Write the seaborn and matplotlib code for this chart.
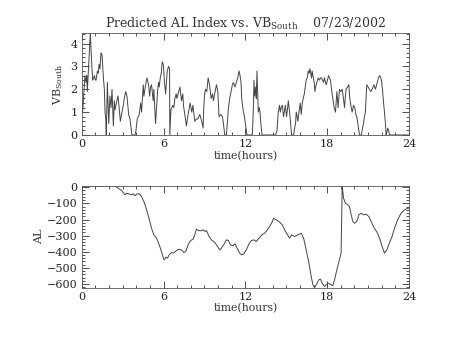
import numpy as np
import pandas as pd
import matplotlib
matplotlib.use("Agg")
import matplotlib.pyplot as plt
from matplotlib.ticker import MultipleLocator
import seaborn as sns

# Southward IMF component (VB_south), hours UT
vb_hours = [0.00, 0.07, 0.15, 0.24, 0.32, 0.37, 0.41, 0.49, 0.56, 0.63, 0.71, 0.80, 0.88, 0.93,
            1.00, 1.05, 1.15, 1.22, 1.27, 1.34, 1.41, 1.49, 1.59, 1.66, 1.71, 1.76, 1.80, 1.88,
            1.98, 2.07, 2.15, 2.22, 2.32, 2.39, 2.44, 2.54, 2.66, 2.73, 2.83, 2.95, 3.05, 3.12,
            3.22, 3.32, 3.44, 3.54, 3.68, 3.90, 3.98, 4.07, 4.22, 4.32, 4.39, 4.51, 4.56, 4.66,
            4.78, 4.90, 4.98, 5.05, 5.12, 5.24, 5.29, 5.41, 5.49, 5.56, 5.63, 5.68, 5.76, 5.83,
            5.90, 5.98, 6.07, 6.15, 6.27, 6.37, 6.44, 6.46, 6.54, 6.61, 6.68, 6.76, 6.83, 6.93,
            6.98, 7.07, 7.20, 7.32, 7.41, 7.46, 7.56, 7.68, 7.80, 7.95, 8.07, 8.15, 8.29, 8.41,
            8.51, 8.66, 8.80, 8.90, 8.95, 9.00, 9.07, 9.17, 9.27, 9.37, 9.49, 9.59, 9.66, 9.78,
            9.88, 9.98, 10.07, 10.20, 10.32, 10.41, 10.49, 10.61, 10.76, 10.85, 10.98, 11.05,
            11.12, 11.24, 11.34, 11.44, 11.54, 11.61, 11.68, 11.73, 11.83, 11.93, 12.00, 12.12,
            12.51, 12.59, 12.63, 12.68, 12.76, 12.80, 12.85, 12.90, 12.95, 13.02, 13.07, 13.15,
            13.22, 14.22, 14.32, 14.41, 14.51, 14.56, 14.63, 14.71, 14.80, 14.88, 14.93, 15.02,
            15.10, 15.15, 15.24, 15.32, 15.39, 15.54, 15.61, 15.68, 15.73, 15.80, 15.85, 15.93,
            16.02, 16.10, 16.17, 16.24, 16.32, 16.39, 16.46, 16.54, 16.61, 16.68, 16.73, 16.80,
            16.85, 16.90, 16.98, 17.05, 17.10, 17.15, 17.24, 17.34, 17.44, 17.51, 17.59, 17.66,
            17.73, 17.80, 17.88, 17.93, 18.02, 18.10, 18.17, 18.24, 18.32, 18.41, 18.51, 18.61,
            18.71, 18.76, 18.80, 18.85, 18.90, 19.00, 19.10, 19.17, 19.27, 19.32, 19.39, 19.49,
            19.59, 19.63, 19.68, 19.76, 19.83, 19.93, 20.02, 20.10, 20.17, 20.27, 20.37, 20.51,
            20.59, 20.66, 20.73, 20.80, 20.85, 20.90, 21.00, 21.10, 21.20, 21.29, 21.37, 21.44,
            21.54, 21.63, 21.76, 21.85, 21.93, 21.98, 22.05, 22.12, 22.20, 22.27, 22.32, 22.37,
            22.44, 22.51, 22.56, 24.00]
vb_south = [1.5, 1.0, 1.8, 2.6, 2.3, 2.6, 1.9, 2.8, 3.6, 4.45, 3.4, 2.4, 2.5, 2.6,
            2.4, 2.4, 2.8, 2.7, 3.1, 2.9, 3.6, 3.5, 2.5, 2.0, 1.0, 0.7, 0.0, 2.3,
            0.5, 1.7, 1.2, 2.0, 0.4, 1.5, 1.1, 1.4, 1.7, 1.3, 0.6, 1.0, 1.3, 1.6,
            1.9, 1.7, 0.9, 0.7, 0.0, 0.0, 0.2, 0.7, 0.9, 1.4, 1.0, 2.2, 1.7, 2.1,
            2.5, 2.2, 1.7, 2.1, 2.2, 1.5, 2.0, 0.5, 1.2, 1.9, 2.3, 2.1, 2.5, 2.7,
            3.2, 3.1, 2.3, 1.8, 2.8, 3.0, 2.9, 0.0, 1.1, 1.2, 1.3, 1.2, 1.6, 1.8,
            1.6, 1.8, 2.1, 1.5, 1.8, 1.3, 0.9, 0.4, 0.9, 1.4, 1.0, 1.3, 0.6, 0.7,
            0.7, 0.9, 0.6, 0.3, 1.2, 1.7, 2.0, 1.9, 2.5, 2.2, 1.6, 1.8, 1.5, 1.9,
            2.2, 1.9, 0.8, 0.9, 0.8, 0.4, 0.0, 0.0, 1.2, 1.6, 2.0, 2.2,
            2.3, 2.1, 2.3, 2.5, 2.8, 2.6, 2.3, 1.6, 1.1, 0.8, 0.5, 0.0,
            0.0, 1.2, 2.4, 1.7, 2.1, 1.6, 2.8, 1.9, 1.0, 1.2, 1.0, 0.4,
            0.0, 0.0, 0.2, 1.0, 1.3, 1.0, 1.2, 1.3, 0.8, 1.1, 1.3, 0.8,
            1.2, 1.5, 1.0, 0.5, 0.0, 0.0, 0.3, 0.5, 1.0, 0.8, 0.6, 1.0,
            1.4, 0.9, 1.4, 1.6, 1.8, 2.1, 2.4, 2.5, 2.8, 2.7, 2.9, 2.7,
            2.5, 2.8, 2.5, 2.3, 1.9, 2.1, 2.3, 2.5, 2.4, 2.5, 2.5, 2.4,
            2.3, 2.5, 2.3, 2.2, 2.4, 2.6, 2.5, 2.4, 2.0, 1.6, 1.2, 1.0,
            1.9, 1.5, 1.2, 1.6, 2.0, 1.9, 2.0, 1.7, 1.2, 1.6, 2.0, 2.1,
            2.2, 1.8, 1.5, 1.2, 1.0, 1.3, 1.2, 0.9, 0.8, 0.4, 0.0, 0.0,
            0.3, 0.5, 0.8, 1.0, 1.6, 2.2, 2.1, 2.0, 1.9, 2.0, 2.1, 2.2,
            2.0, 2.2, 2.5, 2.6, 2.5, 2.4, 2.0, 1.5, 1.0, 0.5, 0.0, 0.1,
            0.3, 0.2, 0.0, 0.0]

# Predicted AL index (nT), hours UT
al_hours = [0.00, 2.44, 2.68, 2.93, 3.17, 3.29, 3.46, 3.66, 3.78, 3.90, 4.07, 4.22, 4.39, 4.56,
            4.76, 4.95, 5.12, 5.29, 5.49, 5.68, 5.85, 5.98, 6.05, 6.17, 6.29, 6.41, 6.59, 6.71,
            6.95, 7.12, 7.32, 7.49, 7.63, 7.80, 7.98, 8.17, 8.29, 8.41, 8.56, 8.71, 8.90, 9.05,
            9.15, 9.34, 9.51, 9.76, 9.93, 10.12, 10.24, 10.41, 10.61, 10.76, 10.90, 11.10, 11.24,
            11.39, 11.59, 11.73, 11.88, 12.07, 12.27, 12.44, 12.63, 12.80, 13.00, 13.20, 13.41,
            13.61, 13.78, 13.98, 14.07, 14.27, 14.46, 14.71, 14.88, 15.05, 15.24, 15.39, 15.61,
            15.85, 16.10, 16.27, 16.46, 16.66, 16.83, 16.95, 17.07, 17.20, 17.39, 17.51, 17.63,
            17.80, 17.93, 18.10, 18.29, 18.41, 18.54, 18.71, 18.90, 19.02, 19.10, 19.20, 19.34,
            19.51, 19.63, 19.76, 19.88, 20.00, 20.17, 20.32, 20.49, 20.66, 20.85, 21.05, 21.22,
            21.46, 21.70, 21.88, 22.07, 22.20, 22.37, 22.56, 22.76, 22.93, 23.17, 23.41, 23.66,
            23.90, 24.00]
al_index = [8, 8, -6, -20, -47, -37, -41, -47, -41, -52, -41, -41, -58, -89,
            -140, -198, -254, -295, -315, -357, -398, -439, -450, -433, -439, -419, -404, -408,
            -392, -384, -388, -404, -398, -357, -330, -322, -295, -260, -268, -270, -264, -274,
            -268, -305, -326, -342, -363, -388, -377, -357, -326, -330, -357, -363, -350,
            -377, -408, -419, -412, -388, -350, -330, -326, -336, -315, -295, -285,
            -264, -243, -212, -192, -202, -212, -233, -264, -289, -315, -295, -305,
            -295, -285, -315, -388, -470, -553, -604, -622, -604, -573, -569, -594,
            -614, -604, -594, -604, -610, -573, -511, -449, -408, 8, -68, -99,
            -109, -120, -171, -212, -223, -212, -171, -161, -171, -167, -181, -212,
            -254, -285, -326, -377, -408, -388, -346, -305, -254, -202, -161, -140,
            -130, -130]

hour_ticks = [0, 6, 12, 18, 24]

vb_df = pd.DataFrame({"hours": vb_hours, "vb": vb_south})
al_df = pd.DataFrame({"hours": al_hours, "al": al_index})

sns.set_style("white")
plt.rcParams["font.family"] = ["DejaVu Serif"]
plt.rcParams["mathtext.fontset"] = "dejavuserif"

fig = plt.figure(figsize=(4.53, 3.40), dpi=100)
ax1 = fig.add_axes([0.1804, 0.603, 0.7225, 0.299])
ax2 = fig.add_axes([0.1804, 0.154, 0.7225, 0.299])

line_kw = dict(color="#444444", linewidth=0.7, estimator=None, sort=False)
sns.lineplot(data=vb_df, x="hours", y="vb", ax=ax1, **line_kw)
sns.lineplot(data=al_df, x="hours", y="al", ax=ax2, **line_kw)

ax1.set_ylim(min(vb_south), max(vb_south))
ax2.set_ylim(min(al_index), max(al_index))

for ax in (ax1, ax2):
    ax.set_xlim(hour_ticks[0], hour_ticks[-1])
    ax.set_xticks(hour_ticks)
    ax.xaxis.set_minor_locator(MultipleLocator(1))
    ax.set_xlabel("time(hours)", fontsize=7.8, labelpad=1, color="#333333")
    ax.tick_params(which="both", direction="in", bottom=True, left=True,
                   top=True, right=True, labelsize=8, color="#333333",
                   labelcolor="#222222", width=0.6, pad=3)
    ax.tick_params(which="major", length=5)
    ax.tick_params(which="minor", length=2.5)
    for s in ax.spines.values():
        s.set_linewidth(0.6)
        s.set_color("#555555")

ax1.yaxis.set_major_locator(MultipleLocator(1))
ax1.yaxis.set_minor_locator(MultipleLocator(0.2))
ax2.yaxis.set_major_locator(MultipleLocator(100))
ax2.yaxis.set_minor_locator(MultipleLocator(20))

ax1.set_ylabel(r"VB$_{\mathrm{South}}$", fontsize=8, labelpad=4, color="#333333")
ax2.set_ylabel("AL", fontsize=8, labelpad=2, color="#333333")

ax1.set_title(r"Predicted AL Index vs. VB$_{\mathrm{South}}$    07/23/2002",
              fontsize=9, pad=4, color="#333333")

fig.savefig("out.png", dpi=100, facecolor="white")
